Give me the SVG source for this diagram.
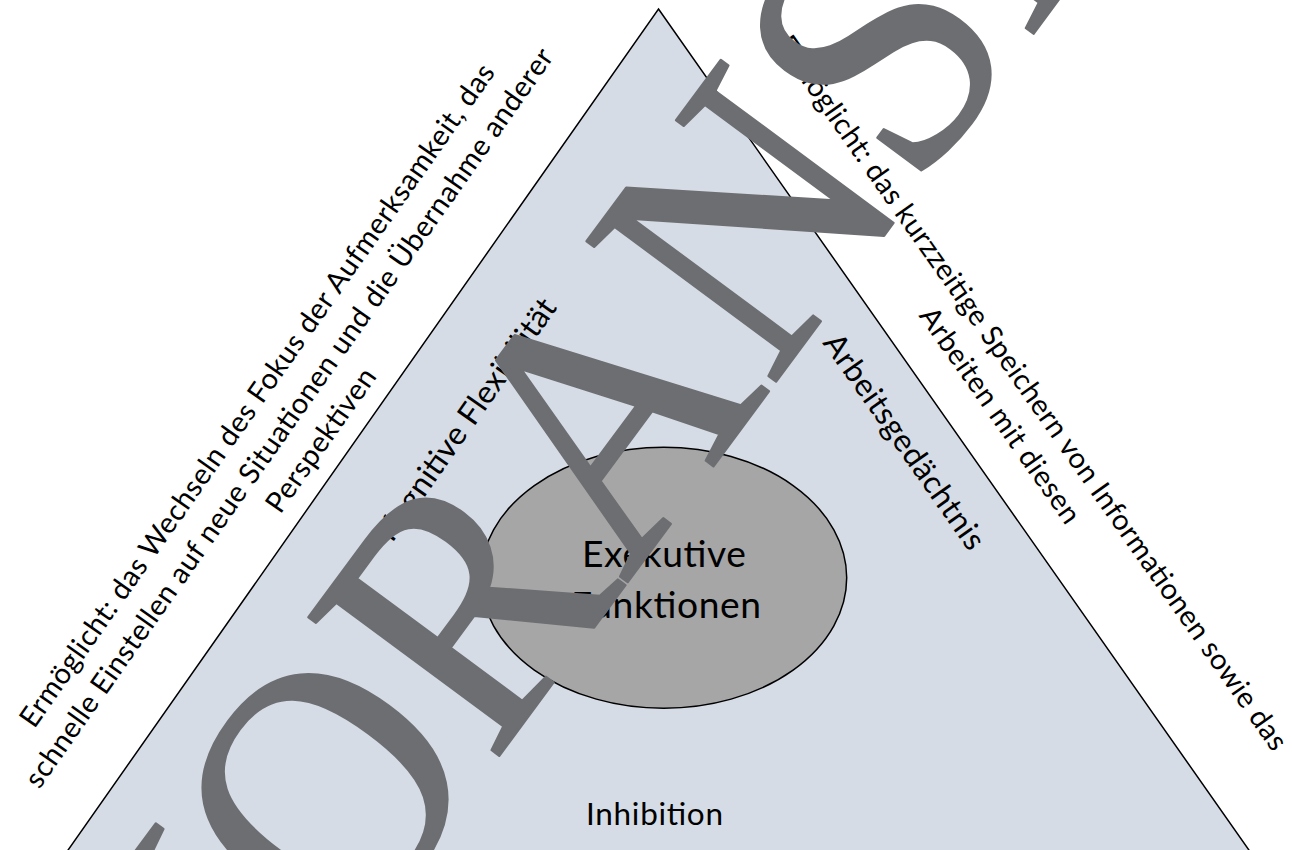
<svg xmlns="http://www.w3.org/2000/svg" width="1292" height="850" viewBox="0 0 1292 850">
  <style>
    .t { font-family: Lato, "Open Sans", "Liberation Sans", sans-serif; fill: #000; }
    .desc { font-size: 28.8px; text-anchor: middle; }
    .lbl { font-size: 31.5px; text-anchor: middle; }
    .core { font-size: 37.2px; text-anchor: middle; }
    .wm { font-family: "Liberation Serif", "Times New Roman", serif; font-size: 360px; fill: #6D6E72; stroke: #6D6E72; stroke-width: 2.5px; stroke-linejoin: round; }
  </style>
  <rect width="1292" height="850" fill="#FFFFFF"/>
  <g id="triangle">
    <polygon points="658.5,9 1284,900 33,900" fill="#D6DCE5" stroke="#000" stroke-width="1.5" stroke-linejoin="miter"/>
  </g>
  <g id="desc-flexibilitaet" transform="translate(265,401) rotate(-54.9)">
    <text class="t desc" x="0" y="0" textLength="803">Ermöglicht: das Wechseln des Fokus der Aufmerksamkeit, das</text>
    <text class="t desc" x="0" y="39" textLength="896">schnelle Einstellen auf neue Situationen und die Übernahme anderer</text>
    <text class="t desc" x="0" y="78" textLength="169">Perspektiven</text>
  </g>
  <g id="desc-arbeitsgedaechtnis" transform="translate(1024,398.5) rotate(54.9)">
    <text class="t desc" x="0" y="0" textLength="866">Ermöglicht: das kurzzeitige Speichern von Informationen sowie das</text>
    <text class="t desc" x="0" y="39" textLength="257">Arbeiten mit diesen</text>
  </g>
  <g id="label-flexibilitaet" transform="translate(475,425.5) rotate(-54.9)">
    <text class="t lbl" x="0" y="0" textLength="288">Kognitive Flexibilität</text>
  </g>
  <g id="label-arbeitsgedaechtnis" transform="translate(895.7,447.6) rotate(54.9)">
    <text class="t lbl" x="0" y="0" textLength="256">Arbeitsgedächtnis</text>
  </g>
  <g id="label-inhibition">
    <text class="t lbl" x="654.5" y="825" textLength="137">Inhibition</text>
  </g>
  <g id="node-exekutive">
    <ellipse cx="663.7" cy="577.8" rx="183" ry="130.5" fill="#A6A6A6" stroke="#000" stroke-width="1.5"/>
    <text class="t core" x="664" y="566.7" textLength="164">Exekutive</text>
    <text class="t core" x="666" y="618.3" textLength="190">Funktionen</text>
  </g>
  <g id="connectors"/>
  <g id="watermark" transform="translate(203,1156) rotate(-53.5) scale(0.935,1)">
    <text class="wm" x="0" y="0">VORANSICHT</text>
  </g>
</svg>
